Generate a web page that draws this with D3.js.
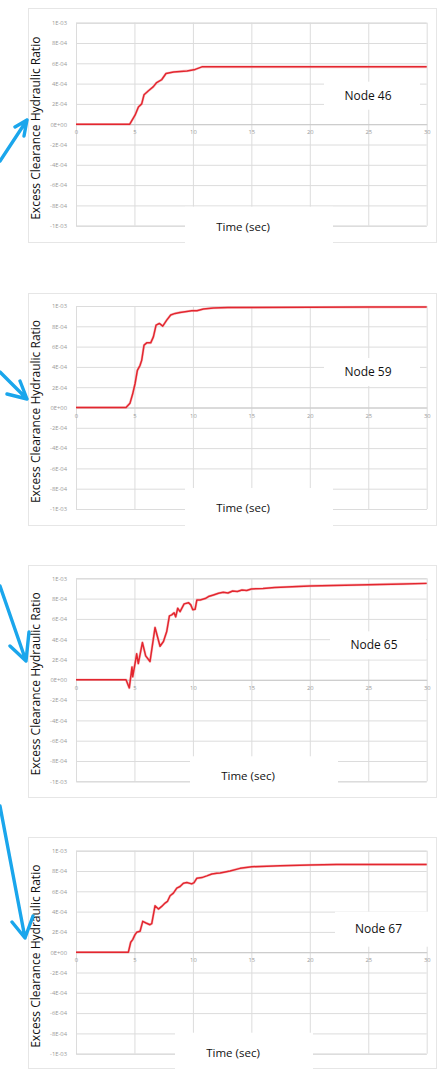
<!DOCTYPE html>
<html>
<head>
<meta charset="utf-8">
<script src="https://cdnjs.cloudflare.com/ajax/libs/d3/7.8.5/d3.min.js"></script>
<style>
  html, body { margin: 0; padding: 0; background: #fff; }
  svg { display: block; }
</style>
</head>
<body>
<script>
// ---- data: excess clearance hydraulic ratio vs time, one series per node ----
const nodeNames = ["Node 46", "Node 59", "Node 65", "Node 67"];

const node46Time  = [0, 4.6, 5.05, 5.34, 5.62, 5.82, 6.2, 6.62, 6.9, 7.34, 7.7, 8.35, 9.5, 10.2, 10.77, 30];
const node46Value = [0, 0, 0.089e-3, 0.17e-3, 0.20e-3, 0.29e-3, 0.33e-3, 0.37e-3, 0.41e-3, 0.44e-3, 0.50e-3, 0.515e-3, 0.525e-3, 0.54e-3, 0.565e-3, 0.565e-3];

const node59Time  = [0, 4.28, 4.62, 4.85, 5.05, 5.25, 5.48, 5.62, 5.82, 6.05, 6.39, 6.62, 6.85, 7.13, 7.42, 7.76, 8.1, 8.48, 8.9, 9.33, 9.9, 10.34, 10.9, 11.76, 13, 15, 20, 25, 30];
const node59Value = [0, 0, 0.043e-3, 0.135e-3, 0.234e-3, 0.366e-3, 0.416e-3, 0.465e-3, 0.614e-3, 0.637e-3, 0.637e-3, 0.696e-3, 0.812e-3, 0.828e-3, 0.802e-3, 0.861e-3, 0.911e-3, 0.927e-3, 0.937e-3, 0.944e-3, 0.954e-3, 0.954e-3, 0.970e-3, 0.980e-3, 0.984e-3, 0.986e-3, 0.988e-3, 0.989e-3, 0.99e-3];

const node65Time  = [0, 4.28, 4.56, 4.79, 4.85, 5.05, 5.19, 5.33, 5.68, 5.96, 6.33, 6.76, 7.19, 7.48, 7.76, 7.99, 8.19, 8.39, 8.53, 8.7, 8.9, 9.25, 9.62, 9.82, 9.99, 10.19, 10.34, 10.62, 11.05, 11.33, 11.76, 12.19, 12.6, 13, 13.4, 13.8, 14.2, 14.6, 15, 16, 17, 18, 19, 20, 22, 24, 26, 28, 30];
const node65Value = [0, 0, -0.08e-3, 0.125e-3, 0.03e-3, 0.16e-3, 0.256e-3, 0.16e-3, 0.367e-3, 0.236e-3, 0.18e-3, 0.515e-3, 0.33e-3, 0.377e-3, 0.475e-3, 0.63e-3, 0.64e-3, 0.66e-3, 0.62e-3, 0.705e-3, 0.672e-3, 0.748e-3, 0.76e-3, 0.738e-3, 0.69e-3, 0.695e-3, 0.787e-3, 0.787e-3, 0.80e-3, 0.82e-3, 0.836e-3, 0.852e-3, 0.862e-3, 0.855e-3, 0.875e-3, 0.87e-3, 0.885e-3, 0.88e-3, 0.895e-3, 0.90e-3, 0.91e-3, 0.915e-3, 0.92e-3, 0.925e-3, 0.93e-3, 0.935e-3, 0.94e-3, 0.945e-3, 0.95e-3];

const node67Time  = [0, 4.48, 4.68, 4.85, 5.05, 5.19, 5.48, 5.71, 5.99, 6.33, 6.48, 6.76, 7.05, 7.33, 7.62, 7.82, 8.05, 8.33, 8.62, 8.9, 9.19, 9.48, 9.9, 10.1, 10.34, 10.77, 11.19, 11.62, 12.05, 12.33, 13.18, 14.04, 15.04, 17.47, 19.97, 22.3, 25, 30];
const node67Value = [0, 0, 0.098e-3, 0.124e-3, 0.173e-3, 0.196e-3, 0.206e-3, 0.304e-3, 0.288e-3, 0.271e-3, 0.281e-3, 0.457e-3, 0.425e-3, 0.451e-3, 0.484e-3, 0.50e-3, 0.556e-3, 0.582e-3, 0.631e-3, 0.647e-3, 0.68e-3, 0.686e-3, 0.673e-3, 0.686e-3, 0.729e-3, 0.735e-3, 0.752e-3, 0.771e-3, 0.778e-3, 0.78e-3, 0.80e-3, 0.826e-3, 0.842e-3, 0.852e-3, 0.859e-3, 0.865e-3, 0.865e-3, 0.865e-3];

const seriesTimes  = [node46Time, node59Time, node65Time, node67Time];
const seriesValues = [node46Value, node59Value, node65Value, node67Value];

const xTickValues = [0, 5, 10, 15, 20, 25, 30];
const yTickValues = [1e-3, 8e-4, 6e-4, 4e-4, 2e-4, 0, -2e-4, -4e-4, -6e-4, -8e-4, -1e-3];
const yTickLabels = ["1E-03", "8E-04", "6E-04", "4E-04", "2E-04", "0E+00", "-2E-04", "-4E-04", "-6E-04", "-8E-04", "-1E-03"];

const yTitle = "Excess Clearance Hydraulic Ratio";
const xTitle = "Time (sec)";

// ---- layout ----
const W = 438, H = 1072;
const plotLeft = 76, plotRight = 426.7, plotH = 203;
const plotTops = [22.7, 306, 578.3, 850.7];
const frames = [[8, 242], [293, 525], [565, 797], [837, 1068]];
// white label boxes, offsets relative to plot top: [x, y, w, h]
const nodeBoxes = [[324, 59, 96, 28], [324, 52, 96, 28], [330, 53, 96, 28], [335, 61, 95, 35]];
const timeBoxes = [[185, 184, 148, 40], [185, 182, 148, 40], [190, 178, 148, 40], [175, 182, 138, 40]];
// blue pointer arrows: tail, tip, two barb ends
const arrows = [
  [[0, 161], [27, 120], [15, 127], [24, 136]],
  [[0, 372], [27, 399], [20, 381], [7, 394]],
  [[0, 586], [26, 661], [29, 632], [10, 646]],
  [[0, 806], [25, 938], [33, 916], [12, 922]]
];

const svg = d3.select("body").append("svg").attr("width", W).attr("height", H);

const x = d3.scaleLinear().domain([0, 30]).range([plotLeft, plotRight]);
const font = "'Open Sans', 'DejaVu Sans', sans-serif";

seriesTimes.forEach((times, i) => {
  const top = plotTops[i];
  const y = d3.scaleLinear().domain([-1e-3, 1e-3]).range([top + plotH, top]);
  const g = svg.append("g");

  // chart frame
  g.append("rect")
    .attr("x", 28.5).attr("y", frames[i][0] + 0.5)
    .attr("width", 408).attr("height", frames[i][1] - frames[i][0])
    .attr("fill", "none").attr("stroke", "#e6e6e6");

  // horizontal gridlines + y tick labels
  const yAxis = d3.axisLeft(y)
    .tickValues(yTickValues)
    .tickSize(-(plotRight - plotLeft))
    .tickPadding(9)
    .tickFormat((d, k) => yTickLabels[k]);
  const ya = g.append("g").attr("transform", `translate(${plotLeft},0)`).call(yAxis);
  ya.select(".domain").attr("stroke", "#cfcfcf");
  ya.selectAll(".tick line").attr("stroke", "#dcdcdc");
  ya.selectAll(".tick text").attr("fill", "#9a9a9a").attr("font-size", 5.8).attr("font-family", font);

  // vertical gridlines
  const xGrid = d3.axisBottom(x).tickValues(xTickValues).tickSize(-plotH).tickFormat("");
  const xg = g.append("g").attr("transform", `translate(0,${top + plotH})`).call(xGrid);
  xg.select(".domain").remove();
  xg.selectAll(".tick line").attr("stroke", "#dcdcdc");

  // x axis through zero
  const xAxis = d3.axisBottom(x).tickValues(xTickValues).tickSize(0).tickPadding(6);
  const xa = g.append("g").attr("transform", `translate(0,${y(0)})`).call(xAxis);
  xa.select(".domain").attr("stroke", "#c8c8c8");
  xa.selectAll(".tick text").attr("fill", "#9a9a9a").attr("font-size", 5.8).attr("font-family", font);

  // white label boxes over the grid
  const nb = nodeBoxes[i], tb = timeBoxes[i];
  g.append("rect").attr("x", tb[0]).attr("y", top + tb[1]).attr("width", tb[2]).attr("height", tb[3]).attr("fill", "#fff");
  g.append("rect").attr("x", nb[0]).attr("y", top + nb[1]).attr("width", nb[2]).attr("height", nb[3]).attr("fill", "#fff");

  // series line
  const pts = times.map((t, k) => [t, seriesValues[i][k]]);
  const line = d3.line().x(d => x(d[0])).y(d => y(d[1]));
  g.append("path").datum(pts)
    .attr("d", line).attr("fill", "none")
    .attr("stroke", "#f4a0a4").attr("stroke-width", 2.6).attr("stroke-linejoin", "round").attr("opacity", 0.6);
  g.append("path").datum(pts)
    .attr("d", line).attr("fill", "none")
    .attr("stroke", "#e3262f").attr("stroke-width", 1.5).attr("stroke-linejoin", "round");

  // node label
  g.append("text")
    .attr("x", nb[0] + nb[2] / 2 - 4).attr("y", top + nb[1] + nb[3] / 2 + 4)
    .attr("text-anchor", "middle")
    .attr("font-family", font).attr("font-size", 12).attr("fill", "#111")
    .text(nodeNames[i]);

  // x title
  g.append("text")
    .attr("x", tb[0] + 58).attr("y", top + tb[1] + 24)
    .attr("text-anchor", "middle")
    .attr("font-family", font).attr("font-size", 11.5).attr("fill", "#111")
    .text(xTitle);

  // y title
  g.append("text")
    .attr("transform", `translate(39.5,${top + plotH / 2 + 4}) rotate(-90)`)
    .attr("text-anchor", "middle")
    .attr("font-family", font).attr("font-size", 12).attr("fill", "#111")
    .text(yTitle);

  // pointer arrow
  const a = arrows[i];
  g.append("path")
    .attr("d", `M${a[0]}L${a[1]}M${a[2]}L${a[1]}L${a[3]}`)
    .attr("fill", "none").attr("stroke", "#1aa6ec")
    .attr("stroke-width", 3.4).attr("stroke-linecap", "round").attr("stroke-linejoin", "round");
});
</script>
</body>
</html>
